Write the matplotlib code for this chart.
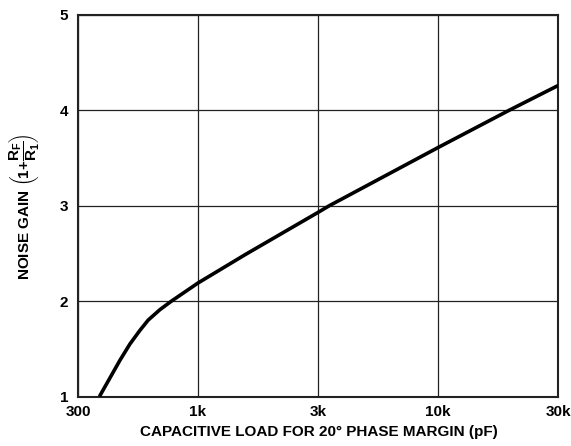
import numpy as np
import matplotlib
matplotlib.use('Agg')
from matplotlib import pyplot as plt

plt.rcParams['font.family'] = ['Liberation Sans', 'DejaVu Sans']
plt.rcParams['font.weight'] = 'bold'
plt.rcParams['mathtext.fontset'] = 'custom'
plt.rcParams['mathtext.rm'] = 'Liberation Sans:bold'
plt.rcParams['mathtext.it'] = 'Liberation Sans:bold'
plt.rcParams['mathtext.bf'] = 'Liberation Sans:bold'
plt.rcParams['mathtext.default'] = 'rm'

# capacitive load (pF) vs noise gain
cap_load = [372, 457, 505, 557, 606, 682, 766, 1000, 1546, 3000, 3358, 10000, 19150, 30000]
noise_gain = [1.0, 1.38, 1.55, 1.69, 1.80, 1.91, 2.0, 2.19, 2.49, 2.93, 3.0, 3.61, 4.0, 4.26]

x_ticks = [300, 1000, 3000, 10000, 30000]
x_labels = ['300', '1k', '3k', '10k', '30k']
y_ticks = [1, 2, 3, 4, 5]

# the printed axis spaces 300/1k/3k/10k/30k evenly
log_anchors = np.log10(x_ticks)
pos_anchors = np.arange(len(x_ticks), dtype=float)

def fwd(x):
    return np.interp(np.log10(np.clip(x, 1e-9, None)), log_anchors, pos_anchors)

def inv(p):
    return 10 ** np.interp(p, pos_anchors, log_anchors)

fig = plt.figure(figsize=(5.71, 4.46), dpi=100)
ax = fig.add_axes([78/571, 1-396.5/446, 480/571, 381.5/446])

ax.set_xscale('function', functions=(fwd, inv))
ax.set_xlim(300, 30000)
ax.set_ylim(1, 5)

ax.plot(cap_load, noise_gain, color='black', lw=2.6, solid_capstyle='butt',
        solid_joinstyle='round', zorder=3)

ax.set_xticks(x_ticks)
ax.set_xticklabels(x_labels)
ax.set_xticks([], minor=True)
ax.set_yticks(y_ticks)
ax.tick_params(length=0, labelsize=11, pad=7)
ax.tick_params(axis='x', pad=6)
for lab in ax.get_xticklabels() + ax.get_yticklabels():
    lab.set_fontweight('bold')

ax.grid(True, color='#222222', lw=0.9)
for sp in ax.spines.values():
    sp.set_linewidth(1.5)
    sp.set_color('#222222')

fig.text(318.5/571, 1-432/446, 'CAPACITIVE LOAD FOR 20° PHASE MARGIN (pF)',
         ha='center', va='center', fontsize=11, fontweight='bold')
fig.text(24/571, 1-207/446, r'NOISE GAIN $\left(\!1\!+\!\dfrac{R_F}{R_1}\!\right)$',
         ha='center', va='center', rotation=90, fontsize=11, fontweight='bold')

fig.savefig('out.png', dpi=100)
